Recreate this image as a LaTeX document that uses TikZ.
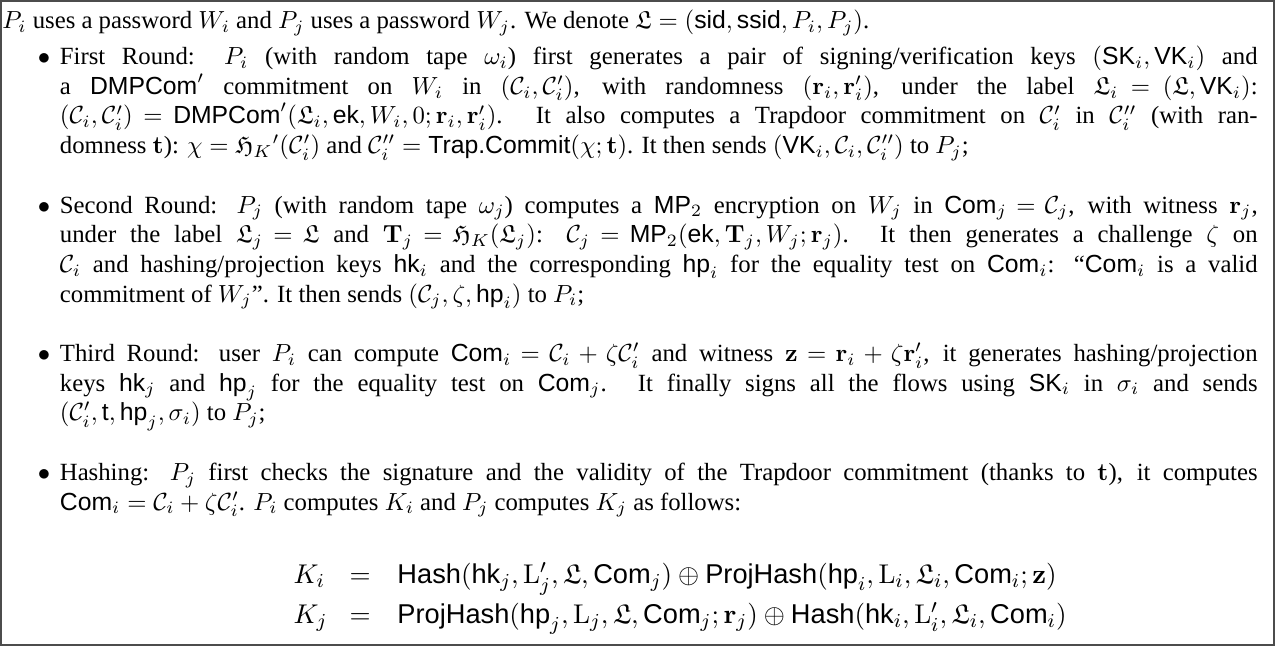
\documentclass[tikz,border=0pt]{standalone}
\usepackage{amsmath,amssymb}
\usepackage[no-math]{fontspec}
\setmainfont{Liberation Serif}
\newfontfamily\sanshelv{Liberation Sans}
\newcommand{\Sf}[1]{\text{\sanshelv #1}}
\newcommand{\Lf}{\mathfrak{L}}
\newcommand{\Cc}{\mathcal{C}}
\thickmuskip=5mu plus 1mu
\medmuskip=4mu plus 1mu minus 2mu
\tikzset{
  itemtext/.style={anchor=base west, inner sep=0pt, outer sep=0pt},
  bul/.style={anchor=base, inner sep=0pt, font=\fontsize{10}{12}\selectfont},
  eqpart/.style={inner sep=0pt, font=\fontsize{11}{13}\selectfont},
  frame/.style={draw=black!70, line width=0.8pt}
}
\newcommand{\itembox}[1]{\parbox[t]{484pt}{\fontsize{10}{12}\selectfont\tolerance=9999\hyphenpenalty=10000 #1}}
\begin{document}
\begin{tikzpicture}[x=1pt,y=1pt]
\useasboundingbox (0,0) rectangle (516,-261.8);
\draw[frame] (0.4,-0.4) rectangle (514.7,-260.6);

\node[itemtext] (intro) at (1,-11.6) {\itembox{$P_i$ uses a password $W_i$ and $P_j$ uses a password $W_j$. We denote $\Lf = (\Sf{sid}, \Sf{ssid}, P_i, P_j)$.}};

\node[bul] (b1) at (17.8,-26.1) {$\bullet$};
\node[itemtext] (i1) at (24.2,-26.1) {\itembox{First Round: $P_i$ (with random tape $\omega_i$) first generates a pair of signing/verification keys $(\Sf{SK}_i, \Sf{VK}_i)$ and\linebreak
a $\Sf{DMPCom}'$ commitment on $W_i$ in $(\Cc_i, \Cc'_i)$, with randomness $(\mathbf{r}_i, \mathbf{r}'_i)$, under the label $\Lf_i = (\Lf, \Sf{VK}_i)$:\linebreak
$(\Cc_i,\Cc'_i) = \Sf{DMPCom}'(\Lf_i, \Sf{ek}, W_i, 0; \mathbf{r}_i, \mathbf{r}'_i)$. It also computes a Trapdoor commitment on $\Cc'_i$ in $\Cc''_i$ (with ran-\linebreak
domness $\mathbf{t}$): $\chi = \mathfrak{H}_K{}'(\Cc'_i)$ and $\Cc''_i = \Sf{Trap.Commit}(\chi; \mathbf{t})$. It then sends $(\Sf{VK}_i, \Cc_i, \Cc''_i)$ to $P_j$;}};

\node[bul] (b2) at (17.8,-86.1) {$\bullet$};
\node[itemtext] (i2) at (24.2,-86.1) {\itembox{Second Round: $P_j$ (with random tape $\omega_j$) computes a $\Sf{MP}_2$ encryption on $W_j$ in $\Sf{Com}_j = \Cc_j$, with witness $\mathbf{r}_j$,\linebreak
under the label $\Lf_j = \Lf$ and $\mathbf{T}_j = \mathfrak{H}_K(\Lf_j)$: $\Cc_j = \Sf{MP}_2(\Sf{ek}, \mathbf{T}_j, W_j; \mathbf{r}_j)$. It then generates a challenge $\zeta$ on\linebreak
$\Cc_i$ and hashing/projection keys $\Sf{hk}_i$ and the corresponding $\Sf{hp}_i$ for the equality test on $\Sf{Com}_i$: ``$\Sf{Com}_i$ is a valid\linebreak
commitment of $W_j$''. It then sends $(\Cc_j, \zeta, \Sf{hp}_i)$ to $P_i$;}};

\node[bul] (b3) at (17.8,-146.1) {$\bullet$};
\node[itemtext] (i3) at (24.2,-146.1) {\itembox{Third Round: user $P_i$ can compute $\Sf{Com}_i = \Cc_i + \zeta\Cc'_i$ and witness $\mathbf{z} = \mathbf{r}_i + \zeta\mathbf{r}'_i$, it generates hashing/projection\linebreak
keys $\Sf{hk}_j$ and $\Sf{hp}_j$ for the equality test on $\Sf{Com}_j$. It finally signs all the flows using $\Sf{SK}_i$ in $\sigma_i$ and sends\linebreak
$(\Cc'_i, \Sf{t}, \Sf{hp}_j, \sigma_i)$ to $P_j$;}};

\node[bul] (b4) at (17.8,-194.1) {$\bullet$};
\node[itemtext] (i4) at (24.2,-194.1) {\itembox{Hashing: $P_j$ first checks the signature and the validity of the Trapdoor commitment (thanks to $\mathbf{t}$), it computes\linebreak
$\Sf{Com}_i = \Cc_i + \zeta\Cc'_i$. $P_i$ computes $K_i$ and $P_j$ computes $K_j$ as follows:}};

\node[eqpart, anchor=base west] (k1) at (118.4,-235.8) {$K_i$};
\node[eqpart, anchor=base] (e1) at (145.5,-235.8) {$=$};
\node[eqpart, anchor=base west] (r1) at (160.4,-235.8) {$\Sf{Hash}(\Sf{hk}_j, \mathrm{L}'_j, \Lf, \Sf{Com}_j) \oplus \Sf{ProjHash}(\Sf{hp}_i, \mathrm{L}_i, \Lf_i, \Sf{Com}_i; \mathbf{z})$};

\node[eqpart, anchor=base west] (k2) at (118.4,-252) {$K_j$};
\node[eqpart, anchor=base] (e2) at (145.5,-252) {$=$};
\node[eqpart, anchor=base west] (r2) at (160.4,-252) {$\Sf{ProjHash}(\Sf{hp}_j, \mathrm{L}_j, \Lf, \Sf{Com}_j; \mathbf{r}_j) \oplus \Sf{Hash}(\Sf{hk}_i, \mathrm{L}'_i, \Lf_i, \Sf{Com}_i)$};
\end{tikzpicture}
\end{document}
